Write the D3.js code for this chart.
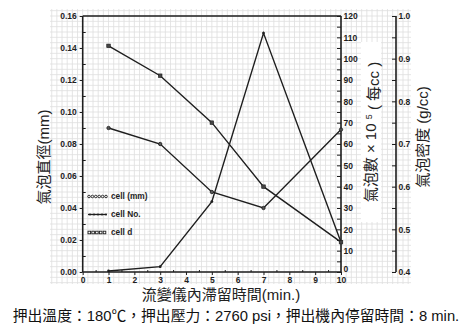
<!DOCTYPE html>
<html><head><meta charset="utf-8">
<script src="https://cdn.jsdelivr.net/npm/d3@7"></script>
<style>
html,body{margin:0;padding:0;background:#fff;}
svg{display:block;}
</style></head>
<body>
<script>
// ---- data ----
const times = [1, 3, 5, 7, 10];
const cellDiameter = [0.090, 0.080, 0.050, 0.040, 0.089];   // mm, left axis
const cellNumber = [0.5, 2.5, 33, 112, 14];                 // x10^5 per cc, right axis
const cellDensity = [0.93, 0.86, 0.75, 0.60, 0.47];         // g/cc, far right axis
const xTicks = [0,1,2,3,4,5,6,7,8,9,10];
const leftTicks = [0.00,0.02,0.04,0.06,0.08,0.10,0.12,0.14,0.16];
const rightTicks = [0,10,20,30,40,50,60,70,80,90,100,110,120];
const farTicks = [0.4,0.5,0.6,0.7,0.8,0.9,1.0];
const legendLabels = ["cell (mm)", "cell No.", "cell d"];
const xTitle = "流變儀內滯留時間(min.)";
const leftTitle = "氣泡直徑(mm)";
const farTitle = "氣泡密度 (g/cc)";
const caption = "押出溫度：180℃，押出壓力：2760 psi，押出機內停留時間：8 min.";

const W = 460, H = 336;
const L = 82.7, R = 341, T = 16, B = 272;
const farX = 396;
const ink = "#1e1e1e";

const svg = d3.select("body").append("svg").attr("width", W).attr("height", H);

const x = d3.scaleLinear().domain([0,10]).range([L,R]);
const yL = d3.scaleLinear().domain([0,0.16]).range([B,T]);
const yR = d3.scaleLinear().domain([0,120]).range([B,T]);
const yF = d3.scaleLinear().domain([0.4,1.0]).range([B,T]);

// ---- graph-paper grid ----
const grid = svg.append("g").attr("stroke","#dedede").attr("stroke-width",0.8);
const gx = d3.range(-6, 64).map(k => x(k*0.2)).filter(v => v >= 50 && v <= 411);
const gy = d3.range(-3, 52).map(k => yL(k*0.01/3)).filter(v => v >= 9 && v <= 284);
gx.forEach(v => grid.append("line").attr("x1",v).attr("x2",v).attr("y1",9).attr("y2",284));
gy.forEach(v => grid.append("line").attr("x1",50).attr("x2",411).attr("y1",v).attr("y2",v));
// white patch behind right title
svg.append("rect").attr("x",361).attr("y",42).attr("width",20).attr("height",180).attr("fill","#fff");

// ---- frame / axes ----
const axisFont = "bold 8.5px 'Liberation Sans', Arial, sans-serif";
function styleAxis(g){
  g.select(".domain").remove();
  g.selectAll("line").attr("stroke", ink).attr("stroke-width",1);
  g.selectAll("text").style("font", axisFont).attr("fill", ink);
}
// left axis
const gl = svg.append("g").attr("transform",`translate(${L},0)`)
  .call(d3.axisLeft(yL).tickValues(leftTicks).tickSize(3).tickPadding(3).tickFormat(d3.format(".2f")));
styleAxis(gl);
svg.append("g").attr("transform",`translate(${L},0)`)
  .call(d3.axisRight(yL).tickValues(d3.range(1,16,2).map(k=>k*0.01)).tickSize(3).tickFormat(""))
  .call(styleAxis);
// right axis
const gr = svg.append("g").attr("transform",`translate(${R},0)`)
  .call(d3.axisRight(yR).tickValues(rightTicks).tickSize(0).tickPadding(2.5));
styleAxis(gr);
gr.selectAll(".tick text").filter(d => d === 0).attr("y", -3);
svg.append("g").attr("transform",`translate(${R},0)`)
  .call(d3.axisLeft(yR).tickValues(d3.range(0,121,5)).tickSize(4).tickFormat(""))
  .call(styleAxis);
// far axis
const gf = svg.append("g").attr("transform",`translate(${farX},0)`)
  .call(d3.axisRight(yF).tickValues(farTicks).tickSize(0).tickPadding(2.5).tickFormat(d3.format(".1f")));
styleAxis(gf);
svg.append("g").attr("transform",`translate(${farX},0)`)
  .call(d3.axisLeft(yF).tickValues(d3.range(8,21).map(k=>k*0.05)).tickSize(4).tickFormat(""))
  .call(styleAxis);
// bottom axis
const gb = svg.append("g").attr("transform",`translate(0,${B})`)
  .call(d3.axisBottom(x).tickValues(xTicks).tickSize(3).tickPadding(1.5).tickFormat(d3.format("d")));
styleAxis(gb);
svg.append("g").attr("transform",`translate(0,${B})`)
  .call(d3.axisTop(x).tickValues(d3.range(0,10).map(k=>k+0.5)).tickSize(2).tickFormat(""))
  .call(styleAxis);

// frame lines
const frame = svg.append("g").attr("stroke", ink).attr("stroke-width",1.6).attr("fill","none");
frame.append("line").attr("x1",L).attr("x2",L).attr("y1",T).attr("y2",B);
frame.append("line").attr("x1",R).attr("x2",R).attr("y1",T).attr("y2",B);
frame.append("line").attr("x1",L).attr("x2",R).attr("y1",T).attr("y2",T);
frame.append("line").attr("x1",L).attr("x2",R).attr("y1",B).attr("y2",B);
frame.append("line").attr("x1",farX).attr("x2",farX).attr("y1",T).attr("y2",B);

// ---- series ----
const line = (ys, s) => d3.line().x((d,i)=>x(times[i])).y(d=>s(d))(ys);
svg.append("path").attr("d", line(cellDiameter, yL)).attr("fill","none").attr("stroke",ink).attr("stroke-width",1.4);
svg.append("path").attr("d", line(cellNumber, yR)).attr("fill","none").attr("stroke",ink).attr("stroke-width",1.4);
svg.append("path").attr("d", line(cellDensity, yF)).attr("fill","none").attr("stroke",ink).attr("stroke-width",1.4);

svg.append("g").selectAll("circle").data(cellDiameter).join("circle")
  .attr("cx",(d,i)=>x(times[i])).attr("cy",d=>yL(d)).attr("r",1.7)
  .attr("fill","#555").attr("stroke",ink).attr("stroke-width",0.8);
svg.append("g").selectAll("circle").data(cellNumber).join("circle")
  .attr("cx",(d,i)=>x(times[i])).attr("cy",d=>yR(d)).attr("r",1.4).attr("fill",ink);
svg.append("g").selectAll("rect").data(cellDensity).join("rect")
  .attr("x",(d,i)=>x(times[i])-1.8).attr("y",d=>yF(d)-1.8).attr("width",3.6).attr("height",3.6)
  .attr("fill","#444").attr("stroke",ink).attr("stroke-width",0.6);

// ---- legend ----
const legY = [196.5, 214.5, 232.5];
const lg = svg.append("g");
legendLabels.forEach((t,i) => {
  const y0 = legY[i];
  if (i === 0) {
    d3.range(6).forEach(k => lg.append("circle").attr("cx",89+k*3.4).attr("cy",y0).attr("r",1.3)
      .attr("fill","none").attr("stroke",ink).attr("stroke-width",0.9));
  } else if (i === 1) {
    lg.append("line").attr("x1",88).attr("x2",106.5).attr("y1",y0).attr("y2",y0).attr("stroke",ink).attr("stroke-width",1.3);
    d3.range(5).forEach(k => lg.append("circle").attr("cx",90+k*4).attr("cy",y0).attr("r",1).attr("fill",ink));
  } else {
    d3.range(5).forEach(k => lg.append("rect").attr("x",88+k*3.8).attr("y",y0-1.3).attr("width",2.6).attr("height",2.6)
      .attr("fill","none").attr("stroke",ink).attr("stroke-width",0.9));
  }
  lg.append("text").attr("x",111).attr("y",y0).attr("dy","0.35em").text(t)
    .style("font", "bold 8.3px 'Liberation Sans', Arial, sans-serif").attr("fill",ink);
});

// ---- titles ----
const cjk = "'Liberation Sans', 'Noto Sans CJK TC', 'Noto Sans CJK SC', sans-serif";
svg.append("text").attr("transform","translate(44,157) rotate(-90)").attr("text-anchor","middle")
  .attr("dy","0.35em").style("font-family",cjk).style("font-size","15px").attr("fill","#222").text(leftTitle);

const rt = svg.append("text").attr("transform","translate(371,132) rotate(-90)").attr("text-anchor","middle")
  .attr("dy","0.35em").style("font-family",cjk).style("font-size","15px").attr("fill","#222");
rt.append("tspan").text("氣泡數 × 10 ");
rt.append("tspan").attr("dy","-0.45em").style("font-size","9px").text("5");
rt.append("tspan").attr("dy","0.45em").text(" ( 每cc )");

svg.append("text").attr("transform","translate(423,137) rotate(-90)").attr("text-anchor","middle")
  .attr("dy","0.35em").style("font-family",cjk).style("font-size","15px").attr("fill","#222").text(farTitle);

svg.append("text").attr("x",221).attr("y",295).attr("text-anchor","middle").attr("dy","0.35em")
  .style("font-family",cjk).style("font-size","15px").attr("fill","#222").text(xTitle);

svg.append("text").attr("x",236).attr("y",316).attr("text-anchor","middle").attr("dy","0.35em")
  .style("font-family",cjk).style("font-size","14.8px").attr("fill","#111").text(caption);
</script>
</body></html>
